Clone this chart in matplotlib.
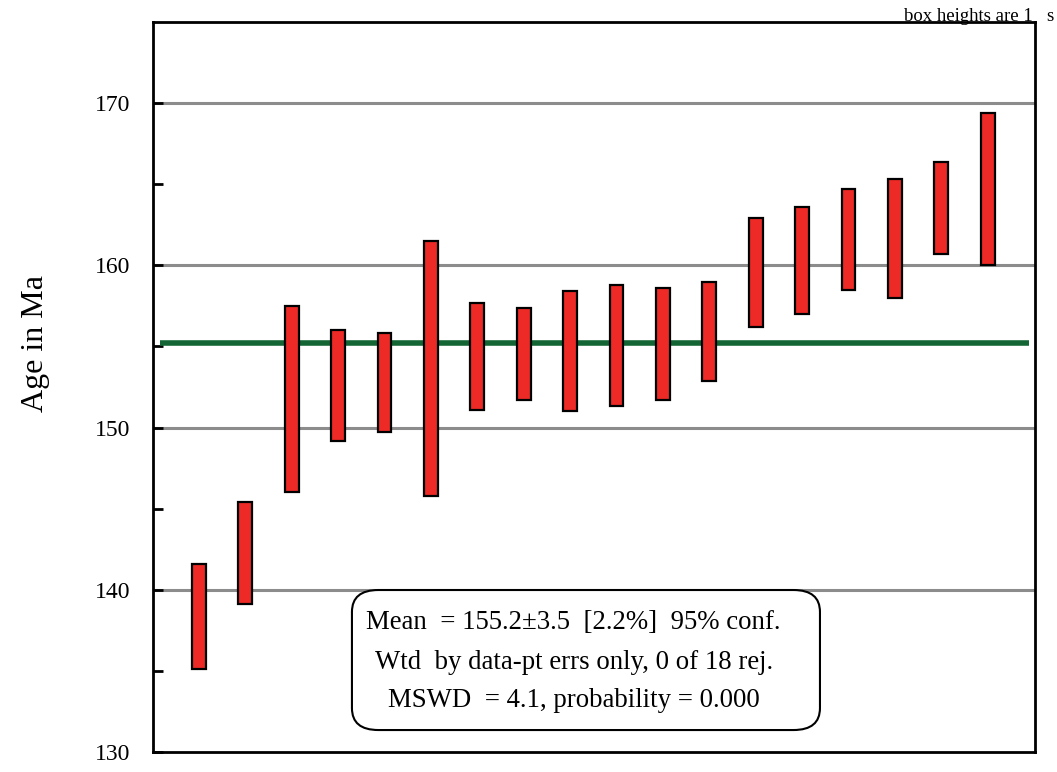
import matplotlib.pyplot as plt
import numpy as np
from matplotlib.patches import FancyBboxPatch

plt.rcParams['font.family'] = ['Liberation Serif', 'DejaVu Serif']

# 18 ages, box spans (lower and upper edge, Ma)
lower = [135.1, 139.1, 146.0, 149.2, 149.7, 145.8, 151.1, 151.7, 151.0,
         151.3, 151.7, 152.9, 156.2, 157.0, 158.5, 158.0, 160.7, 160.0]
upper = [141.6, 145.4, 157.5, 156.0, 155.8, 161.5, 157.7, 157.4, 158.4,
         158.8, 158.6, 159.0, 162.9, 163.6, 164.7, 165.3, 166.4, 169.4]
mean_age = 155.2
ylabels = [130, 140, 150, 160, 170]
stats_lines = ["Mean  = 155.2\u00b13.5  [2.2%]  95% conf.",
               "Wtd  by data-pt errs only, 0 of 18 rej.",
               "MSWD  = 4.1, probability = 0.000"]

fig = plt.figure(figsize=(10.57, 7.72), dpi=100)
ax = fig.add_axes([0.1447, 0.0259, 0.8345, 0.9456])

x = np.arange(1, len(lower) + 1)
lo = np.array(lower)
hi = np.array(upper)

for g in [140, 150, 160, 170]:
    ax.axhline(g, color='#8c8c8c', lw=2.2, zorder=1)

ax.plot([0.16, 18.9], [mean_age, mean_age], color='#136633', lw=4, zorder=2,
        solid_capstyle='butt')

ax.bar(x, hi - lo, bottom=lo, width=0.3, color='#ee2a27', edgecolor='black',
       linewidth=1.6, zorder=3)

ax.set_xlim(0.01, 19.02)
ax.set_ylim(130, 175)
ax.set_xticks([])
ax.set_yticks(ylabels)
ax.set_yticks([135, 145, 155, 165], minor=True)
ax.tick_params(axis='y', which='both', direction='in', length=7, width=2,
               labelsize=17, pad=16)
for s in ax.spines.values():
    s.set_linewidth(2)
ax.set_ylabel('Age in Ma', fontsize=23)
ax.yaxis.set_label_coords(-0.117, 0.56)

# rounded stats box
box = FancyBboxPatch((0.2256, 0.0301), 0.5306, 0.1918, transform=ax.transAxes,
                     boxstyle='round,pad=0,rounding_size=0.03',
                     facecolor='white', edgecolor='black', lw=1.5, zorder=4)
ax.add_patch(box)
for yy, line in zip([0.178, 0.123, 0.071], stats_lines):
    ax.text(0.477, yy, line, transform=ax.transAxes,
            ha='center', va='center', fontsize=19.3, zorder=5)

fig.text(0.997, 0.978, 'box heights are 1   s', ha='right', va='center',
         fontsize=13.5)

fig.savefig('out.png')
